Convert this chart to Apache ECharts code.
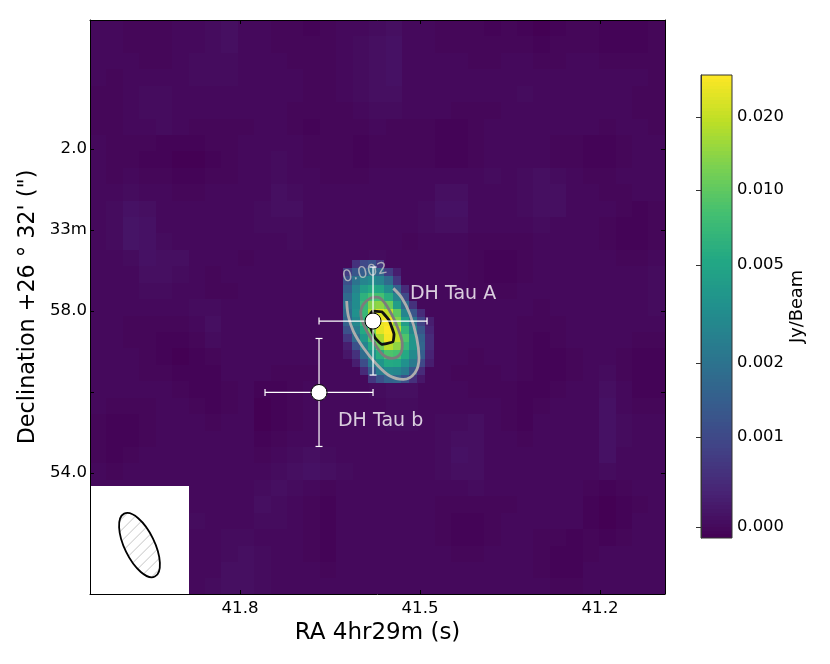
<!DOCTYPE html>
<html>
<head>
<meta charset="utf-8">
<title>DH Tau</title>
<script src="https://cdn.jsdelivr.net/npm/echarts@6/dist/echarts.min.js"></script>
<style>
html, body { margin: 0; padding: 0; background: #fff; }
#chart { width: 830px; height: 664px; }
</style>
</head>
<body>
<div id="chart"></div>
<script>
// axes
const raTicks = [41.8, 41.5, 41.2];
const decTicks = [2, 0, -2, -4, -6];
const decTickLabels = ['2.0', '33m', '58.0', '', '54.0'];
const raRange = [41.0917, 42.05];
const decRange = [-8.985, 5.185];

// colour bar: tick values and where they sit on the bar (0 bottom, 1 top)
const barValues = [-0.00012, 0, 0.001, 0.002, 0.005, 0.01, 0.02, 0.027];
const barPositions = [0, 0.0238, 0.218, 0.378, 0.59, 0.752, 0.909, 1];
const barTickLabels = ['', '0.000', '0.001', '0.002', '0.005', '0.010', '0.020', ''];
const viridis = ['#440154', '#482475', '#414487', '#355f8d', '#2a788e', '#21908d', '#22a884', '#43bf71', '#7ad151', '#bddf26', '#fde725'];

// noise floor read in coarse blocks, top row first, level 3 = 0 Jy/beam, one level = 0.04 mJy/beam
const bgStep = 0.00004;
const bgOrigin = [42.05, 5.185];
const bgCell = [0.02737, 0.4054];
const bgLevels = [
  '33222 33453 32212 33453 32221 21012 21112',
  '33222 33453 32222 34563 32222 22122 21112',
  '33322 34443 33222 34563 33322 33223 32222',
  '32333 34443 33322 34563 33333 33333 33332',
  '22344 33333 33322 34553 33333 34333 33322',
  '22344 33333 33222 23443 33222 33333 33322',
  '22334 32222 33212 22322 21123 33333 32332',
  '32221 11223 33322 21222 21123 33322 11233',
  '32211 00123 34322 21222 21123 33322 11233',
  '32322 11223 34332 22333 33334 34543 22333',
  '33433 22333 35433 33333 35533 34553 32233',
  '34653 33333 45533 33333 46633 34553 33212',
  '34763 33333 44433 33333 45533 33433 32112',
  '34764 33333 33433 33332 33322 22333 32112',
  '33465 53332 33333 33433 33321 12333 33223',
  '33355 43233 33333 33433 33321 12333 33334',
  '33344 33223 33333 33333 33322 23333 33334',
  '33333 34433 33333 33333 33333 33233 33334',
  '33222 23533 33333 33333 33333 32223 33333',
  '33221 12433 33333 33333 33333 32123 33322',
  '33321 01233 33333 33333 33323 32112 33211',
  '33322 11133 32223 33333 33222 32112 34211',
  '33333 21123 11233 33455 33322 21123 35311',
  '32223 32123 01233 33344 33333 21233 36322',
  '21123 33233 01233 33344 34453 21333 36433',
  '21123 33333 12333 33333 34553 32333 36433',
  '21233 33333 23454 33333 34653 33333 36333',
  '32333 33333 34565 43333 34553 33333 34333',
  '33333 33333 45432 33333 33343 33333 21233',
  '33333 33333 54321 33333 32222 23333 10123',
  '33333 34333 44321 33333 32112 33333 10133',
  '33333 33344 33321 33333 32112 33221 21233',
  '33333 33345 43321 33333 33223 33211 23333',
  '33333 33355 43332 33333 33333 33211 33333',
  '33333 33455 43333 33333 33333 33322 33333'
];

// the source itself in mJy/beam, top row first
const srcOrigin = [41.6278, -0.74];
const srcCell = [0.01368, 0.2027];
const srcRows = [
  [null, 0.6, 1.0, 1.2, 0.7, null, null, null, null, null, null],
  [0.8, 1.3, 1.5, 2.0, 1.7, 0.8, 0.3, null, null, null, null],
  [1.2, 2.0, 3.0, 3.5, 3.0, 1.8, 0.7, null, null, null, null],
  [1.5, 3.0, 4.5, 5.5, 5.0, 3.5, 1.6, 0.5, null, null, null],
  [1.8, 3.5, 6.5, 8.5, 8.5, 6.0, 3.0, 1.0, null, null, null],
  [2.0, 3.5, 7.5, 14, 15, 11, 4.5, 1.8, 0.6, null, null],
  [1.8, 3.8, 7.5, 18, 23, 20, 10, 3.0, 1.3, 0.5, null],
  [1.6, 3.2, 7.0, 17, 25, 26, 14, 4.5, 2.1, 0.9, 0.3],
  [1.2, 2.5, 5.5, 13, 24, 27, 19, 7.0, 3.2, 1.3, 0.4],
  [0.7, 1.8, 4.2, 9.0, 18, 26, 20, 9.0, 4.0, 1.6, 0.5],
  [0.3, 1.2, 3.0, 5.5, 12, 19, 15, 7.5, 4.0, 1.7, 0.5],
  [0.2, 0.6, 1.8, 3.8, 6.0, 9.0, 8.5, 5.5, 3.4, 1.5, 0.4],
  [null, 0.3, 1.1, 2.5, 4.0, 5.5, 5.2, 3.8, 2.4, 1.0, 0.3],
  [null, null, 0.5, 1.4, 2.5, 3.3, 3.2, 2.4, 1.3, 0.5, null],
  [null, null, null, 0.7, 1.2, 1.6, 1.7, 1.2, 0.6, 0.2, null]
];

// contours in [RA s, Dec offset]
const contour002 = [[41.6222, -1.753], [41.6195, -2.124], [41.6112, -2.494], [41.5945, -2.906], [41.5722, -3.316], [41.55, -3.605], [41.5278, -3.687], [41.5083, -3.524], [41.5017, -3.153], [41.5055, -2.66], [41.5167, -2.082], [41.5305, -1.672], [41.5445, -1.44]];
const contour010 = [[41.5988, -2.0], [41.5945, -1.835], [41.5833, -1.687], [41.5722, -1.655], [41.5612, -1.753], [41.5472, -2.082], [41.5362, -2.452], [41.5295, -2.823], [41.5333, -3.07], [41.5472, -3.168], [41.5612, -3.087], [41.575, -2.823], [41.5888, -2.494], [41.5972, -2.205], [41.5988, -2.0]];
const contour020 = [[41.5788, -2.0], [41.5638, -2.018], [41.5517, -2.223], [41.5433, -2.576], [41.545, -2.758], [41.5638, -2.823], [41.575, -2.66], [41.5833, -2.371], [41.5833, -2.082], [41.5788, -2.0]];
const contourLabel = [41.5917, -1.062];

// companions with their error bars
const sources = ['DH Tau A', 'DH Tau b'];
const sourceRa = [41.5783, 41.6683];
const sourceDec = [-2.247, -4.01];
const errRa = [0.09, 0.09];
const errDec = [1.333, 1.333];
const labelAt = [[41.5167, -1.58], [41.6367, -4.715]];

// beam inset
const insetBox = [42.05, -6.321, 41.885, -8.985];
const beamCentre = [41.9675, -7.778];
const beamMajor = 1.728;
const beamMinor = 0.741;
const beamAngle = 26;

function stretch(v) {
  for (let i = 1; i < barValues.length; i++) {
    if (v <= barValues[i]) {
      const f = (v - barValues[i - 1]) / (barValues[i] - barValues[i - 1]);
      return barPositions[i - 1] + Math.max(f, 0) * (barPositions[i] - barPositions[i - 1]);
    }
  }
  return 1;
}

function cellsFromGrid(rows, origin, cell, scale) {
  const out = [];
  rows.forEach((row, r) => row.forEach((v, c) => {
    if (v === null) return;
    out.push([origin[0] - c * cell[0], origin[1] - r * cell[1], origin[0] - (c + 1) * cell[0], origin[1] - (r + 1) * cell[1], stretch(v * scale)]);
  }));
  return out;
}

function renderCell(params, api) {
  const a = api.coord([api.value(0), api.value(1)]);
  const b = api.coord([api.value(2), api.value(3)]);
  const x = Math.round(a[0]), y = Math.round(a[1]);
  return {
    type: 'rect',
    shape: { x: x, y: y, width: Math.round(b[0]) - x, height: Math.round(b[1]) - y },
    style: { fill: echarts.color.lerp(api.value(4), viridis) }
  };
}

function renderErrorBar(params, api) {
  const ra = api.value(0), dec = api.value(1), er = api.value(2), ed = api.value(3);
  const l = api.coord([ra + er, dec]), r = api.coord([ra - er, dec]);
  const t = api.coord([ra, dec + ed]), b = api.coord([ra, dec - ed]);
  const seg = (x1, y1, x2, y2) => ({ type: 'line', shape: { x1, y1, x2, y2 }, style: { stroke: '#fff', lineWidth: 1.2 } });
  return {
    type: 'group',
    children: [
      seg(l[0], l[1], r[0], r[1]), seg(t[0], t[1], b[0], b[1]),
      seg(l[0], l[1] - 3.5, l[0], l[1] + 3.5), seg(r[0], r[1] - 3.5, r[0], r[1] + 3.5),
      seg(t[0] - 3.5, t[1], t[0] + 3.5, t[1]), seg(b[0] - 3.5, b[1], b[0] + 3.5, b[1])
    ]
  };
}

function renderBeam(params, api) {
  const c = api.coord([api.value(0), api.value(1)]);
  const ry = Math.abs(api.coord([api.value(0), api.value(1) + api.value(2) / 2])[1] - c[1]);
  const rx = Math.abs(api.coord([api.value(0), api.value(1) + api.value(3) / 2])[1] - c[1]);
  const rotation = api.value(4) * Math.PI / 180;
  const hatch = [];
  for (let d = -49.5; d <= 50; d += 5.5) {
    hatch.push({ type: 'line', shape: { x1: c[0] - 50 + d, y1: c[1] + 50 + d, x2: c[0] + 50 + d, y2: c[1] - 50 + d }, style: { stroke: '#c4c4c4', lineWidth: 1 } });
  }
  return {
    type: 'group',
    children: [
      {
        type: 'group',
        children: hatch,
        clipPath: { type: 'ellipse', shape: { cx: 0, cy: 0, rx: rx, ry: ry }, x: c[0], y: c[1], rotation: rotation }
      },
      { type: 'ellipse', shape: { cx: 0, cy: 0, rx: rx, ry: ry }, x: c[0], y: c[1], rotation: rotation, style: { fill: null, stroke: '#000', lineWidth: 1.8 } }
    ]
  };
}

function renderBox(params, api) {
  const a = api.coord([api.value(0), api.value(1)]);
  const b = api.coord([api.value(2), api.value(3)]);
  return { type: 'rect', shape: { x: a[0], y: a[1], width: b[0] - a[0], height: b[1] - a[1] }, style: { fill: '#fff' } };
}

function renderBarFrame(params, api) {
  const a = api.coord([api.value(0), api.value(1)]);
  const b = api.coord([api.value(2), api.value(3)]);
  return { type: 'rect', shape: { x: a[0], y: a[1], width: b[0] - a[0], height: b[1] - a[1] }, style: { fill: null, stroke: '#333', lineWidth: 1 } };
}

const bgData = cellsFromGrid(bgLevels.map(s => s.replace(/ /g, '').split('').map(d => +d - 3)), bgOrigin, bgCell, bgStep);
const srcData = cellsFromGrid(srcRows, srcOrigin, srcCell, 0.001);

// colour bar ramp drawn on its own 0..1 axis
const barSteps = 128;
const barData = [];
for (let i = 0; i < barSteps; i++) barData.push([0, i / barSteps, 1, (i + 1) / barSteps, (i + 0.5) / barSteps]);
const barTicks = barPositions.slice(1, -1);

const font = 'DejaVu Sans';
const frameAxis = {
  type: 'value', z: 10, scale: true,
  axisLine: { show: true, onZero: false, lineStyle: { color: '#000', width: 1 } },
  axisTick: { show: true, inside: true, length: 4, lineStyle: { color: '#000', width: 1 } },
  splitLine: { show: false }
};

const chart = echarts.init(document.getElementById('chart'), null, { renderer: 'canvas' });
chart.setOption({
  animation: false,
  backgroundColor: '#fff',
  textStyle: { fontFamily: font },
  grid: [
    { left: 90, top: 20, width: 575, height: 574 },
    { left: 701, top: 75, width: 31, height: 463 }
  ],
  xAxis: [
    Object.assign({}, frameAxis, {
      gridIndex: 0, position: 'bottom', inverse: true, min: raRange[0], max: raRange[1],
      name: 'RA 4hr29m (s)', nameLocation: 'middle', nameGap: 28,
      nameTextStyle: { fontSize: 23, fontFamily: font, color: '#000' },
      axisTick: Object.assign({}, frameAxis.axisTick, { customValues: raTicks }),
      axisLabel: { customValues: raTicks, formatter: v => v.toFixed(1), fontSize: 16.6, fontFamily: font, color: '#000', margin: 6 }
    }),
    Object.assign({}, frameAxis, {
      gridIndex: 0, position: 'top', inverse: true, min: raRange[0], max: raRange[1],
      axisTick: Object.assign({}, frameAxis.axisTick, { customValues: raTicks }),
      axisLabel: { show: false }
    }),
    { type: 'value', gridIndex: 1, min: 0, max: 1, show: false }
  ],
  yAxis: [
    Object.assign({}, frameAxis, {
      gridIndex: 0, position: 'left', min: decRange[0], max: decRange[1],
      name: 'Declination +26 ° 32\' (")', nameLocation: 'middle', nameGap: 50, nameRotate: 90,
      nameTextStyle: { fontSize: 22.3, fontFamily: font, color: '#000' },
      axisTick: Object.assign({}, frameAxis.axisTick, { customValues: decTicks }),
      axisLabel: {
        customValues: decTicks, fontSize: 16.6, fontFamily: font, color: '#000', margin: 3,
        formatter: v => decTickLabels[decTicks.indexOf(v)]
      }
    }),
    Object.assign({}, frameAxis, {
      gridIndex: 0, position: 'right', min: decRange[0], max: decRange[1],
      axisTick: Object.assign({}, frameAxis.axisTick, { customValues: decTicks }),
      axisLabel: { show: false }
    }),
    {
      type: 'value', gridIndex: 1, position: 'right', min: 0, max: 1, z: 10,
      name: 'Jy/Beam', nameLocation: 'middle', nameGap: 56, nameRotate: 90,
      nameTextStyle: { fontSize: 17.8, fontFamily: font, color: '#000' },
      axisLine: { show: true, lineStyle: { color: '#333', width: 1 } },
      axisTick: { show: true, inside: true, length: 5, customValues: barTicks, lineStyle: { color: '#333', width: 1 } },
      axisLabel: {
        customValues: barTicks, fontSize: 16.4, fontFamily: font, color: '#000', margin: 5,
        formatter: v => barTickLabels[barPositions.indexOf(v)]
      },
      splitLine: { show: false }
    }
  ],
  series: [
    { type: 'custom', name: 'noise', xAxisIndex: 0, yAxisIndex: 0, renderItem: renderCell, data: bgData, silent: true, z: 1, clip: true },
    { type: 'custom', name: 'source', xAxisIndex: 0, yAxisIndex: 0, renderItem: renderCell, data: srcData, silent: true, z: 2, clip: true },
    { type: 'custom', name: 'inset', xAxisIndex: 0, yAxisIndex: 0, renderItem: renderBox, data: [insetBox], silent: true, z: 3 },
    { type: 'custom', name: 'beam', xAxisIndex: 0, yAxisIndex: 0, renderItem: renderBeam, data: [[beamCentre[0], beamCentre[1], beamMajor, beamMinor, beamAngle]], silent: true, z: 4 },
    { type: 'line', name: '0.002', xAxisIndex: 0, yAxisIndex: 0, data: contour002, smooth: 0.35, showSymbol: false, itemStyle: { color: '#adadad' }, lineStyle: { color: '#adadad', width: 2.8 }, silent: true, z: 4 },
    { type: 'line', name: '0.010', xAxisIndex: 0, yAxisIndex: 0, data: contour010, smooth: 0.35, showSymbol: false, itemStyle: { color: '#7c7c7c' }, lineStyle: { color: '#7c7c7c', width: 2.8 }, silent: true, z: 4 },
    { type: 'line', name: '0.020', xAxisIndex: 0, yAxisIndex: 0, data: contour020, smooth: 0.1, showSymbol: false, itemStyle: { color: '#111' }, lineStyle: { color: '#111', width: 2.8 }, silent: true, z: 4 },
    {
      type: 'scatter', name: 'contour label', xAxisIndex: 0, yAxisIndex: 0, data: [contourLabel], symbolSize: 0, silent: true, z: 5,
      label: { show: true, position: 'inside', formatter: '0.002', rotate: 12, fontSize: 16, fontFamily: font, color: '#c4c4c4' }
    },
    {
      type: 'custom', name: 'error bars', xAxisIndex: 0, yAxisIndex: 0, renderItem: renderErrorBar, silent: true, z: 6,
      data: sources.map((s, i) => [sourceRa[i], sourceDec[i], errRa[i], errDec[i]])
    },
    {
      type: 'scatter', name: 'positions', xAxisIndex: 0, yAxisIndex: 0, symbolSize: 16, silent: true, z: 7,
      itemStyle: { color: '#fff', borderColor: '#000', borderWidth: 1, opacity: 1 },
      data: sources.map((s, i) => [sourceRa[i], sourceDec[i]])
    },
    {
      type: 'scatter', name: 'names', xAxisIndex: 0, yAxisIndex: 0, symbolSize: 0, silent: true, z: 8,
      data: sources.map((s, i) => ({ value: labelAt[i], name: s })),
      label: { show: true, position: 'right', distance: 0, formatter: '{b}', fontSize: 19, fontFamily: font, color: '#fff' }
    },
    { type: 'custom', name: 'colour bar', xAxisIndex: 2, yAxisIndex: 2, renderItem: renderCell, data: barData, silent: true, z: 2 },
    { type: 'custom', name: 'colour bar frame', xAxisIndex: 2, yAxisIndex: 2, renderItem: renderBarFrame, data: [[0, 1, 1, 0]], silent: true, z: 3 }
  ]
});
</script>
</body>
</html>
